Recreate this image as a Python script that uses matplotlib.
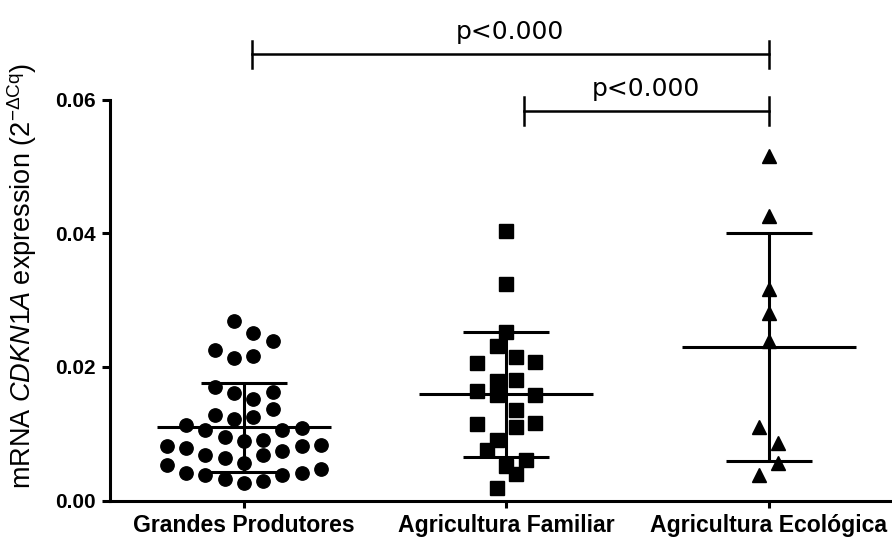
import numpy as np
import matplotlib
matplotlib.use("Agg")
import matplotlib.pyplot as plt

plt.rcParams['mathtext.fontset'] = 'custom'
plt.rcParams['mathtext.rm'] = 'Liberation Sans'
plt.rcParams['mathtext.it'] = 'Liberation Sans:italic'
plt.rcParams['mathtext.bf'] = 'Liberation Sans:bold'

# --- dados (2^-dCq) ---
grupos = ["Grandes Produtores", "Agricultura Familiar", "Agricultura Ecológica"]

grandes_produtores = [
    0.02683, 0.02509, 0.02394, 0.02159, 0.02135, 0.02249,
    0.01695, 0.01621, 0.01612, 0.01526, 0.01377, 0.01276, 0.01246, 0.01227,
    0.01127, 0.01062, 0.01062, 0.01088, 0.00947, 0.00887, 0.00913,
    0.00812, 0.00789, 0.00748, 0.00812, 0.00827,
    0.00688, 0.00639, 0.00688, 0.00564, 0.00528,
    0.00414, 0.00379, 0.00329, 0.00265, 0.00289, 0.00379, 0.00414, 0.00474,
]
agricultura_familiar = [
    0.0403, 0.03243, 0.02519, 0.02309, 0.02075, 0.0206, 0.02145,
    0.01811, 0.01796, 0.01576, 0.01636, 0.01586, 0.01362,
    0.01152, 0.01097, 0.01162, 0.00903, 0.00763, 0.00604, 0.00514,
    0.00404, 0.0018,
]
agricultura_ecologica = [
    0.05162, 0.04265, 0.03168, 0.02808, 0.02384,
    0.01097, 0.00863, 0.00564, 0.00389,
]

comparacoes = [(0, 2, "p<0.000"), (1, 2, "p<0.000")]

dados = [grandes_produtores, agricultura_familiar, agricultura_ecologica]
marcadores = ['o', 's', '^']
tamanhos = [9.6, 9.4, 10.0]


def swarm(valores, passo_x, passo_y, lado):
    # agrupa em linhas de altura passo_y e espalha cada linha em torno do centro;
    # cada linha comeca do lado em que a anterior terminou
    v = np.asarray(valores)
    ordem = np.argsort(v, kind='stable')
    offs = np.zeros(len(v))
    i = 0
    while i < len(ordem):
        j = i
        while j < len(ordem) and v[ordem[j]] - v[ordem[i]] < passo_y:
            j += 1
        linha = ordem[i:j]
        n = len(linha)
        if n % 2:
            mags = [0] + [m for m in range(1, n // 2 + 1) for _ in (0, 1)]
        else:
            mags = [m + 0.5 for m in range(n // 2) for _ in (0, 1)]
        s = lado
        for idx, mag in zip(linha, mags):
            if mag == 0:
                continue
            offs[idx] = s * mag * passo_x
            lado = s
            s = -s
        i = j
    return offs


fig = plt.figure(figsize=(8.92, 5.38), dpi=100)
ax = fig.add_axes([110 / 892, 1 - 500.5 / 538, 1 - 110 / 892, (500.5 - 99.7) / 538])
ax.set_xlim(-0.51, 2.47)
ax.set_ylim(0, 0.06)

# espacamento entre pontos em pixels -> unidades de dados
esp_px = 19.3
p0 = ax.transData.transform((0, 0))
p1 = ax.transData.transform((1, 0.01))
passo_x = esp_px / (p1[0] - p0[0])
passo_y = esp_px / (p1[1] - p0[1]) * 0.01

lados = [1, -1, -1]
for i, vals in enumerate(dados):
    x = i + swarm(vals, passo_x, passo_y, lados[i])
    ax.plot(x, vals, linestyle='none', marker=marcadores[i], ms=tamanhos[i],
            color='black', clip_on=False, zorder=3)
    media = np.mean(vals)
    dp = np.std(vals, ddof=1)
    ax.hlines(media, i - 0.331, i + 0.331, color='black', lw=2.2, zorder=4)
    ax.hlines([media - dp, media + dp], i - 0.164, i + 0.164, color='black', lw=2.2, zorder=4)
    ax.vlines(i, media - dp, media + dp, color='black', lw=2.2, zorder=4)

# barras de significancia
alturas = [0.0668, 0.0583]
inicio = [0.03, 1.067]
for (a, b, txt), y, x0 in zip(comparacoes, alturas, inicio):
    h = 0.00205
    ax.plot([x0, b], [y, y], color='black', lw=1.8, clip_on=False)
    ax.plot([x0, x0], [y - h, y + h], color='black', lw=1.8, clip_on=False)
    ax.plot([b, b], [y - h, y + h], color='black', lw=1.8, clip_on=False)
    ax.text((x0 + b) / 2, y + 0.0023, txt, ha='center', va='baseline',
            fontsize=18, family='DejaVu Sans', color='black')

for s in ['top', 'right']:
    ax.spines[s].set_visible(False)
for s in ['left', 'bottom']:
    ax.spines[s].set_linewidth(2.2)

ax.set_yticks([0, 0.02, 0.04, 0.06])
ax.set_yticklabels(["%.2f" % t for t in [0, 0.02, 0.04, 0.06]],
                   fontsize=15, fontweight='bold', family='Liberation Sans')
ax.set_xticks(range(3))
ax.set_xticklabels(grupos, fontsize=16.6, fontweight='bold', family='Liberation Sans')
ax.tick_params(axis='y', direction='out', length=6, width=2.2, pad=4)
ax.tick_params(axis='x', direction='out', length=5, width=2.2, pad=5)

fig.text(22 / 892, 1 - 276 / 538,
         r"mRNA $\mathit{CDKN1A}$ expression (2$^{\mathrm{-\Delta Cq}}$)",
         rotation=90, ha='center', va='center', fontsize=19.5, family='Liberation Sans')

fig.savefig("out.png", dpi=100, facecolor='white')
